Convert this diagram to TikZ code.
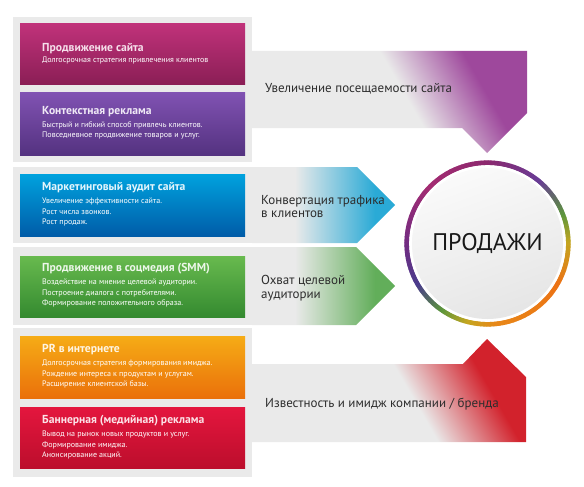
\documentclass[tikz,border=0pt]{standalone}
\usepackage{fontspec}
\setmainfont{PT Sans}
\definecolor{bandgray}{RGB}{234,234,234}
\definecolor{textgray}{RGB}{45,45,45}
\definecolor{mA}{RGB}{192,50,122}\definecolor{mB}{RGB}{138,30,85}
\definecolor{pA}{RGB}{128,82,178}\definecolor{pB}{RGB}{84,50,128}
\definecolor{bA}{RGB}{0,162,222}\definecolor{bB}{RGB}{0,92,168}
\definecolor{gA}{RGB}{104,186,78}\definecolor{gB}{RGB}{52,138,48}
\definecolor{oA}{RGB}{246,172,22}\definecolor{oB}{RGB}{234,112,10}
\definecolor{rA}{RGB}{228,22,62}\definecolor{rB}{RGB}{188,14,44}
\definecolor{arrpurple}{RGB}{158,72,156}
\definecolor{arrblue}{RGB}{42,170,214}
\definecolor{arrgreen}{RGB}{98,174,90}
\definecolor{arrred}{RGB}{210,34,44}
\definecolor{rYel}{RGB}{196,166,32}\definecolor{rGrn}{RGB}{92,150,60}
\definecolor{rPur}{RGB}{104,60,150}\definecolor{rMag}{RGB}{140,40,110}
\definecolor{rMag2}{RGB}{164,44,114}\definecolor{rVio}{RGB}{114,44,130}
\definecolor{rBlu}{RGB}{74,60,140}\definecolor{rOrg}{RGB}{232,136,24}
\definecolor{rOrg2}{RGB}{236,114,20}
\pgfdeclarehorizontalshading{fadepurple}{100bp}{color(0bp)=(bandgray); color(54bp)=(bandgray); color(71bp)=(arrpurple); color(100bp)=(arrpurple)}
\pgfdeclarehorizontalshading{fadered}{100bp}{color(0bp)=(bandgray); color(54bp)=(bandgray); color(71bp)=(arrred); color(100bp)=(arrred)}
\pgfdeclarehorizontalshading{fadeblue}{100bp}{color(0bp)=(bandgray); color(40bp)=(bandgray); color(68bp)=(arrblue); color(100bp)=(arrblue)}
\pgfdeclarehorizontalshading{fadegreen}{100bp}{color(0bp)=(bandgray); color(40bp)=(bandgray); color(68bp)=(arrgreen); color(100bp)=(arrgreen)}
\begin{document}
\begin{tikzpicture}[x=1pt,y=-1pt,
  boxtitle/.style={anchor=west,inner sep=0,font=\bfseries\fontsize{11.6}{13}\selectfont},
  boxtext/.style={anchor=north west,inner sep=0,align=left,text=white,font=\fontsize{8}{10.5}\selectfont},
  flowtext/.style={anchor=west,inner sep=0,align=left,text=textgray,font=\fontsize{13}{13.5}\selectfont},
  ringseg/.style={line width=4.8pt}]
\useasboundingbox (0,0) rectangle (584,487);
% grey groups behind the boxes
\fill[bandgray] (13,17) rectangle (252,162);
\fill[bandgray] (13,167) rectangle (252,243);
\fill[bandgray] (13,247) rectangle (252,325);
\fill[bandgray] (13,328) rectangle (252,477);
% arrows
\shade[shading=fadepurple,shading angle=30] (252,51)--(527,51)--(527,113)--(487,153)--(462,128)--(252,128)--cycle;
\shade[shading=fadeblue] (252,167)--(357,167)--(395,205)--(357,243)--(252,243)--cycle;
\shade[shading=fadegreen] (252,247)--(356,247)--(395,286)--(356,325)--(252,325)--cycle;
\shade[shading=fadered,shading angle=30] (252,442)--(526,442)--(526,377)--(487,339)--(463,364)--(252,364)--cycle;
% coloured boxes
\shade[top color=mA,bottom color=mB] (20,24) rectangle (245,85);
\shade[top color=pA,bottom color=pB] (20,93) rectangle (245,155);
\shade[top color=bA,bottom color=bB] (20,174) rectangle (245,236);
\shade[top color=gA,bottom color=gB] (20,256) rectangle (245,317);
\shade[top color=oA,bottom color=oB] (20,336) rectangle (245,398);
\shade[top color=rA,bottom color=rB] (20,407) rectangle (245,468);
\node[boxtitle,text=white!85!mA] (site) at (42,48.5) {Продвижение сайта};
\node[boxtext] (sitetxt) at (42,56.5) {Долгосрочная стратегия привлечения клиентов};
\node[boxtitle,text=white!88!pA] (context) at (42,111.5) {Контекстная реклама};
\node[boxtext] (contexttxt) at (42,121) {Быстрый и гибкий способ привлечь клиентов.\\Повседневное продвижение товаров и услуг.};
\node[boxtitle,text=white!90!bA] (audit) at (42,187.5) {Маркетинговый аудит сайта};
\node[boxtext] (audittxt) at (42,198) {Увеличение эффективности сайта.\\Рост числа звонков.\\Рост продаж.};
\node[boxtitle,text=white!88!gA] (smm) at (42,268.5) {Продвижение в соцмедия (SMM)};
\node[boxtext] (smmtxt) at (42,279) {Воздействие на мнение целевой аудитории.\\Построение диалога с потребителями.\\Формирование положительного образа.};
\node[boxtitle,text=white!88!oA] (pr) at (42,349.5) {PR в интернете};
\node[boxtext] (prtxt) at (42,360) {Долгосрочная стратегия формирования имиджа.\\Рождение интереса к продуктам и услугам.\\Расширение клиентской базы.};
\node[boxtitle,text=white!88!rA] (banner) at (42,420.5) {Баннерная (медийная) реклама};
\node[boxtext] (bannertxt) at (42,431) {Вывод на рынок новых продуктов и услуг.\\Формирование имиджа.\\Анонсирование акций.};
% arrow texts
\node[flowtext] (visits) at (265,89) {Увеличение посещаемости сайта};
\node[flowtext] (convert) at (261,206.5) {Конвертация трафика\\в клиентов};
\node[flowtext] (reach) at (261,288) {Охват целевой\\аудитории};
\node[flowtext] (brand) at (265,404) {Известность и имидж компании / бренда};
% sales circle
\begin{scope}[shift={(487.5,243.5)},yscale=-1]
\foreach \a/\b/\ca/\cb in {0/20/rYel/rGrn,20/50/rGrn/rPur,50/90/rPur/rMag,90/135/rMag/rMag2,
  135/180/rMag2/rVio,180/210/rVio/rBlu,210/235/rBlu/rGrn,235/255/rGrn/rYel,
  255/275/rYel/rOrg,275/330/rOrg/rOrg2,330/360/rOrg2/rYel}{
  \pgfmathtruncatemacro\an{\a+1}
  \pgfmathtruncatemacro\bm{\b-1}
  \foreach \s in {\a,\an,...,\bm}{
    \pgfmathtruncatemacro\p{(\s-\a)/(\b-\a)*100}
    \draw[ringseg,color=\cb!\p!\ca] (\s:80.7) arc[start angle=\s,end angle=\s+1.4,radius=80.7];
  }
}
\fill[white] (0,0) circle (78.3);
\shade[top color=gray!4,bottom color=gray!20,shading angle=20] (0,0) circle (75.5);
\end{scope}
\node[font=\fontsize{24}{24}\selectfont,text=black!90] (sales) at (487.5,244) {ПРОДАЖИ};
\end{tikzpicture}
\end{document}
